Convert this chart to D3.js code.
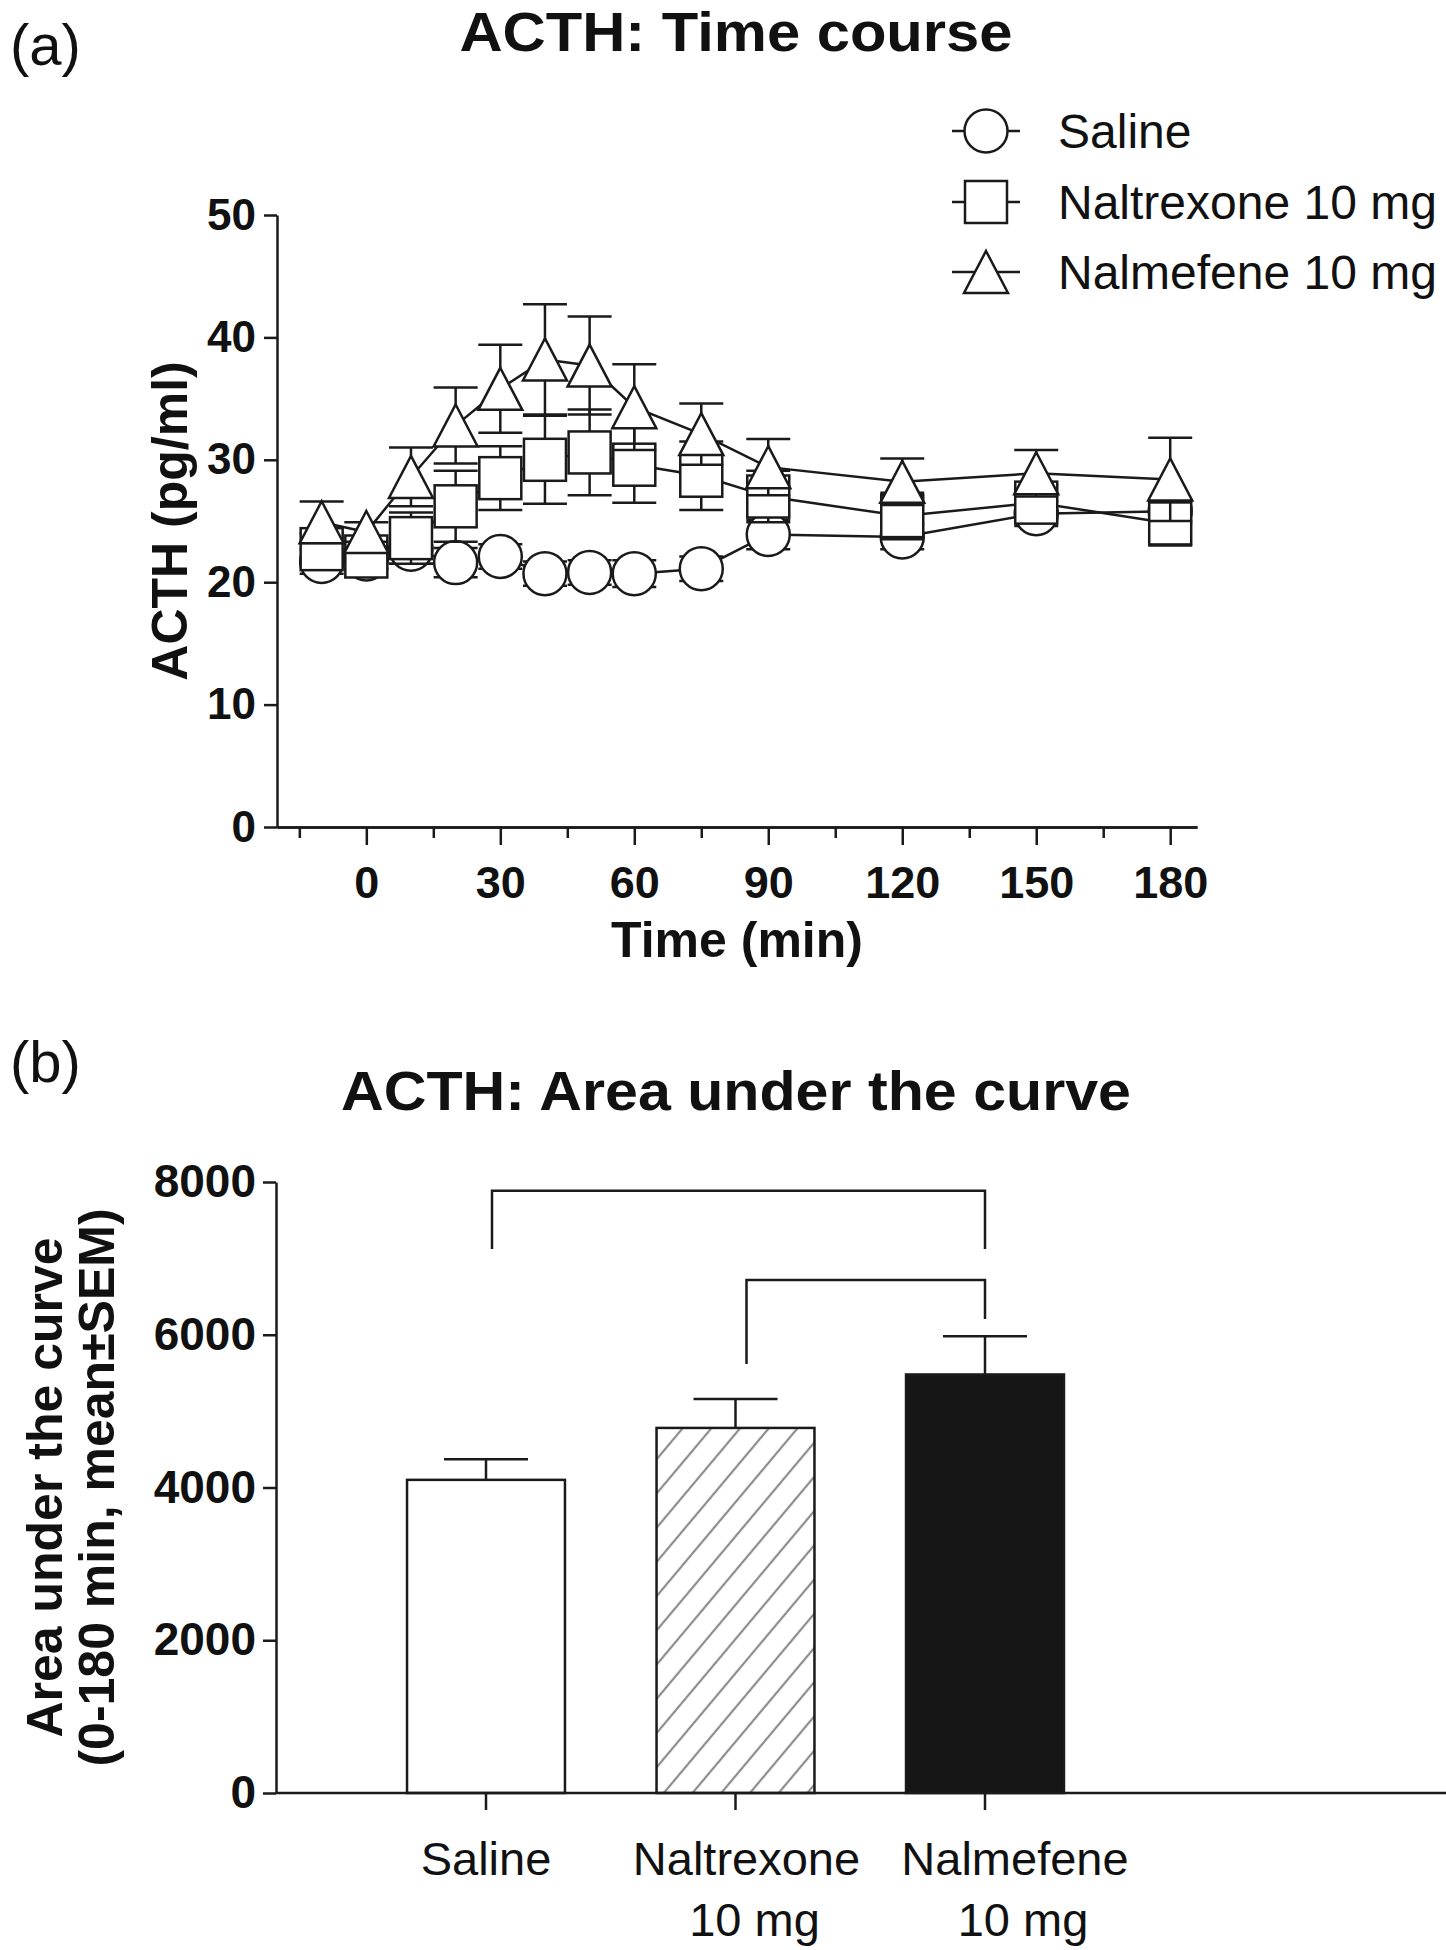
<!DOCTYPE html>
<html><head><meta charset="utf-8">
<script src="https://cdn.jsdelivr.net/npm/d3@7"></script>
<style>
html,body{margin:0;padding:0;background:#fff;}
svg{display:block;}
text{font-family:"Liberation Sans", Arial, Helvetica, sans-serif; fill:#111;}
</style></head><body>
<svg id="chart" width="1446" height="1950"></svg>
<script>
// ---------- Panel (a) data: ACTH time course ----------
const timePoints    = [-10, 0, 10, 20, 30, 40, 50, 60, 75, 90, 120, 150, 180];
const salineMean    = [21.7, 21.9, 22.7, 21.6, 22.1, 20.7, 20.8, 20.7, 21.1, 23.9, 23.7, 25.6, 25.8];
const salineSEM     = [1.0, 0.8, 1.2, 1.2, 1.0, 1.0, 1.0, 1.1, 1.0, 1.2, 1.0, 1.0, 0.9];
const naltrexoneMean= [22.7, 22.1, 23.6, 26.2, 28.5, 30.0, 30.6, 29.6, 28.7, 27.0, 25.4, 26.5, 24.8];
const naltrexoneSEM = [1.3, 1.0, 2.1, 2.9, 2.6, 3.6, 3.5, 3.1, 2.8, 2.1, 1.9, 1.4, 1.8];
const nalmefeneMean = [24.9, 24.1, 28.6, 32.8, 35.8, 38.2, 37.7, 34.3, 32.1, 29.4, 28.2, 28.9, 28.4];
const nalmefeneSEM  = [1.7, 0.8, 2.4, 3.1, 3.6, 4.5, 4.0, 3.5, 2.5, 2.3, 1.9, 1.9, 3.4];
const seriesNames   = ["Saline", "Naltrexone 10 mg", "Nalmefene 10 mg"];
const seriesSymbols = ["circle", "square", "triangle"];
const xTicksMajor   = [0, 30, 60, 90, 120, 150, 180];
const xTicksMinor   = [-15, 15, 45, 75, 105, 135, 165];
const yTicksA       = [0, 10, 20, 30, 40, 50];

// ---------- Panel (b) data: area under the curve ----------
const aucGroups  = ["Saline", "Naltrexone", "Nalmefene"];
const aucLabels  = [["Saline"], ["Naltrexone", "10 mg"], ["Nalmefene", "10 mg"]];
const aucMean    = [4100, 4780, 5480];
const aucSEM     = [270, 380, 500];
const yTicksB    = [0, 2000, 4000, 6000, 8000];
const sigFrom    = ["Saline", "Naltrexone"];
const sigTo      = ["Nalmefene", "Nalmefene"];
const sigTop     = [7886, 6716];
const sigLeftEnd = [7123, 5617];
const sigRightEnd= [7123, 6206];

// ---------- drawing ----------
const svg = d3.select("#chart");
const INK = "#1a1a1a";
const SW = 2.5;

// Panel letters & titles
svg.append("text").attr("x", 10).attr("y", 65).attr("font-size", 58).text("(a)");
svg.append("text").attr("x", 736).attr("y", 51).attr("text-anchor", "middle")
  .attr("font-size", 55).attr("font-weight", "bold")
  .attr("textLength", 553).attr("lengthAdjust", "spacingAndGlyphs").text("ACTH: Time course");

// ---- Panel (a) scales
const xA = d3.scaleLinear().domain([-20, 186]).range([277, 1197]);
const yA = d3.scaleLinear().domain([0, 50]).range([827, 215]);

function styleAxis(g) {
  g.selectAll("path.domain").attr("stroke", INK).attr("stroke-width", SW);
  g.selectAll(".tick line").attr("stroke", INK).attr("stroke-width", SW);
}

// y axis (a)
const gyA = svg.append("g").attr("transform", `translate(${xA(-20)},0)`)
  .call(d3.axisLeft(yA).tickValues(yTicksA).tickSize(13).tickSizeOuter(0).tickPadding(8));
styleAxis(gyA);
gyA.selectAll(".tick text").attr("font-size", 44).attr("font-weight", "bold")
  .attr("fill", "#111").attr("font-family", '"Liberation Sans", Arial, sans-serif');

// x axis (a) minor ticks
const gxAminor = svg.append("g").attr("transform", `translate(0,${yA(0)})`)
  .call(d3.axisBottom(xA).tickValues(xTicksMinor).tickSize(11).tickSizeOuter(0).tickFormat(""));
styleAxis(gxAminor);
// x axis (a) major ticks
const gxA = svg.append("g").attr("transform", `translate(0,${yA(0)})`)
  .call(d3.axisBottom(xA).tickValues(xTicksMajor).tickSize(18).tickSizeOuter(0));
styleAxis(gxA);
gxA.selectAll(".tick text").attr("font-size", 45).attr("font-weight", "bold")
  .attr("fill", "#111").attr("font-family", '"Liberation Sans", Arial, sans-serif')
  .attr("y", 39).attr("dy", "0.71em");

// axis titles (a)
svg.append("text").attr("x", 737).attr("y", 957).attr("text-anchor", "middle")
  .attr("font-size", 50).attr("font-weight", "bold").text("Time (min)");
svg.append("text").attr("transform", `translate(187,${(yA(0) + yA(50)) / 2}) rotate(-90)`)
  .attr("text-anchor", "middle").attr("font-size", 50).attr("font-weight", "bold").text("ACTH (pg/ml)");

// symbols
const R = 21.5, SQ = 42, TW = 44, TH = 42;
function drawSymbol(g, type, cx, cy) {
  if (type === "circle") {
    g.append("circle").attr("cx", cx).attr("cy", cy).attr("r", R)
      .attr("fill", "#fff").attr("stroke", INK).attr("stroke-width", SW);
  } else if (type === "square") {
    g.append("rect").attr("x", cx - SQ / 2).attr("y", cy - SQ / 2).attr("width", SQ).attr("height", SQ)
      .attr("fill", "#fff").attr("stroke", INK).attr("stroke-width", SW);
  } else {
    g.append("path").attr("d", `M${cx},${cy - TH / 2}L${cx + TW / 2},${cy + TH / 2}L${cx - TW / 2},${cy + TH / 2}Z`)
      .attr("fill", "#fff").attr("stroke", INK).attr("stroke-width", SW).attr("stroke-linejoin", "miter");
  }
}

const seriesData = [
  { means: salineMean, sems: salineSEM },
  { means: naltrexoneMean, sems: naltrexoneSEM },
  { means: nalmefeneMean, sems: nalmefeneSEM }
];
const capHalf = 22;
seriesData.forEach((s, si) => {
  const pts = timePoints.map((t, i) => ({ t, m: s.means[i], e: s.sems[i] }));
  const g = svg.append("g");
  g.append("path").datum(pts)
    .attr("d", d3.line().x(d => xA(d.t)).y(d => yA(d.m)))
    .attr("fill", "none").attr("stroke", INK).attr("stroke-width", SW);
  pts.forEach(d => {
    const x = xA(d.t), y1 = yA(d.m + d.e), y2 = yA(d.m - d.e);
    g.append("line").attr("x1", x).attr("x2", x).attr("y1", y1).attr("y2", y2)
      .attr("stroke", INK).attr("stroke-width", SW);
    [y1, y2].forEach(yy => g.append("line").attr("x1", x - capHalf).attr("x2", x + capHalf)
      .attr("y1", yy).attr("y2", yy).attr("stroke", INK).attr("stroke-width", SW));
  });
  pts.forEach(d => drawSymbol(g, seriesSymbols[si], xA(d.t), yA(d.m)));
});

// legend
const legendRowsY = [131, 202, 272];
seriesNames.forEach((name, i) => {
  const g = svg.append("g");
  const cx = 986, cy = legendRowsY[i];
  g.append("line").attr("x1", cx - 34).attr("x2", cx + 34).attr("y1", cy).attr("y2", cy)
    .attr("stroke", INK).attr("stroke-width", SW);
  drawSymbol(g, seriesSymbols[i], cx, cy);
  g.append("text").attr("x", 1058).attr("y", cy + 17).attr("font-size", 48).text(name);
});

// ---------- Panel (b) ----------
svg.append("text").attr("x", 10).attr("y", 1082).attr("font-size", 58).text("(b)");
svg.append("text").attr("x", 736).attr("y", 1110).attr("text-anchor", "middle")
  .attr("font-size", 55).attr("font-weight", "bold")
  .attr("textLength", 790).attr("lengthAdjust", "spacingAndGlyphs").text("ACTH: Area under the curve");

const yB = d3.scaleLinear().domain([0, 8000]).range([1793, 1182]);
const xB = d3.scaleBand().domain(aucGroups).range([361.25, 1109.75]).paddingInner(0.367).paddingOuter(0.1835);
const axisXB = 276;

// hatch pattern
const defs = svg.append("defs");
const pat = defs.append("pattern").attr("id", "hatch").attr("patternUnits", "userSpaceOnUse")
  .attr("width", 22).attr("height", 22).attr("patternTransform", "rotate(40)");
pat.append("rect").attr("width", 22).attr("height", 22).attr("fill", "#fff");
pat.append("line").attr("x1", 11).attr("x2", 11).attr("y1", 0).attr("y2", 22)
  .attr("stroke", "#8c8c8c").attr("stroke-width", 2.2);

const barFills = ["#fff", "url(#hatch)", "#161616"];

// bars
aucGroups.forEach((grp, i) => {
  const x = xB(grp), w = xB.bandwidth(), cx = x + w / 2;
  svg.append("line").attr("x1", cx).attr("x2", cx).attr("y1", yB(aucMean[i])).attr("y2", yB(aucMean[i] + aucSEM[i]))
    .attr("stroke", INK).attr("stroke-width", SW);
  svg.append("line").attr("x1", cx - 42).attr("x2", cx + 42)
    .attr("y1", yB(aucMean[i] + aucSEM[i])).attr("y2", yB(aucMean[i] + aucSEM[i]))
    .attr("stroke", INK).attr("stroke-width", SW);
  svg.append("rect").attr("x", x).attr("y", yB(aucMean[i])).attr("width", w)
    .attr("height", yB(0) - yB(aucMean[i]))
    .attr("fill", barFills[i]).attr("stroke", INK).attr("stroke-width", SW);
});

// y axis (b)
const gyB = svg.append("g").attr("transform", `translate(${axisXB},0)`)
  .call(d3.axisLeft(yB).tickValues(yTicksB).tickSize(13).tickSizeOuter(0).tickPadding(7).tickFormat(d3.format("d")));
styleAxis(gyB);
gyB.selectAll(".tick text").attr("font-size", 46).attr("font-weight", "bold")
  .attr("fill", "#111").attr("font-family", '"Liberation Sans", Arial, sans-serif');

// x axis (b)
svg.append("line").attr("x1", axisXB).attr("x2", 1446).attr("y1", yB(0)).attr("y2", yB(0))
  .attr("stroke", INK).attr("stroke-width", SW);
const gxB = svg.append("g").attr("transform", `translate(0,${yB(0)})`)
  .call(d3.axisBottom(xB).tickSize(17).tickSizeOuter(0).tickFormat(""));
gxB.select("path.domain").remove();
styleAxis(gxB);

// category labels
const labelShift = [0, 11, 30];
aucLabels.forEach((lines, i) => {
  const cx = xB(aucGroups[i]) + xB.bandwidth() / 2 + labelShift[i];
  lines.forEach((ln, j) => {
    svg.append("text").attr("x", cx + j * 8).attr("y", 1875 + j * 61)
      .attr("text-anchor", "middle").attr("font-size", 47).text(ln);
  });
});

// y title (b)
const midB = (yB(0) + yB(8000)) / 2;
svg.append("text").attr("transform", `translate(62,${midB}) rotate(-90)`)
  .attr("text-anchor", "middle").attr("font-size", 50).attr("font-weight", "bold").text("Area under the curve");
svg.append("text").attr("transform", `translate(114,${midB}) rotate(-90)`)
  .attr("text-anchor", "middle").attr("font-size", 50).attr("font-weight", "bold").text("(0-180 min, mean\u00B1SEM)");

// significance brackets
const legShift = { Saline: 6, Naltrexone: 11, Nalmefene: 0 };
sigFrom.forEach((f, i) => {
  const x1 = xB(f) + xB.bandwidth() / 2 + legShift[f];
  const x2 = xB(sigTo[i]) + xB.bandwidth() / 2 + legShift[sigTo[i]];
  svg.append("path")
    .attr("d", `M${x1},${yB(sigLeftEnd[i])}V${yB(sigTop[i])}H${x2}V${yB(sigRightEnd[i])}`)
    .attr("fill", "none").attr("stroke", INK).attr("stroke-width", SW);
});
</script>
</body></html>
